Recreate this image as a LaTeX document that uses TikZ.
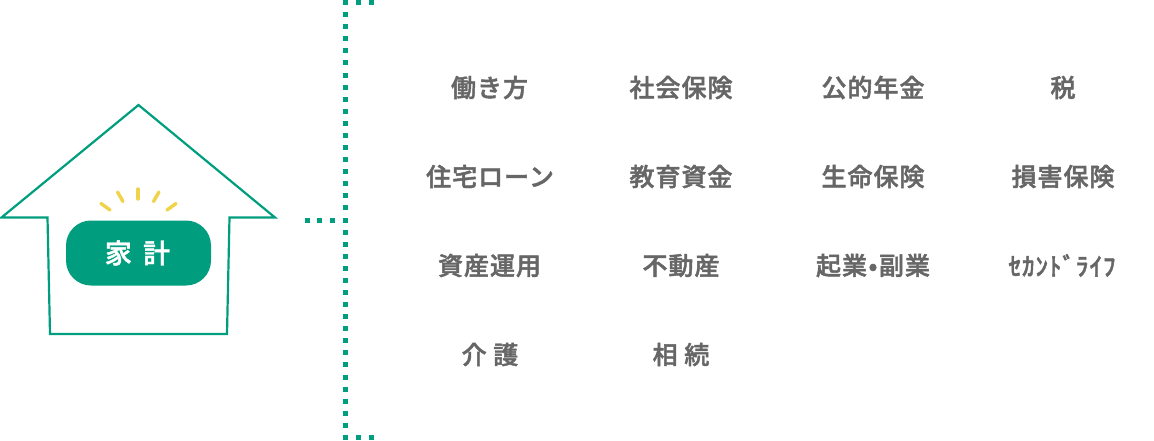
\documentclass[tikz,border=0pt]{standalone}
\usepackage{fontspec}
\newfontfamily\jp[LetterSpace=4,FakeBold=1.8]{Noto Sans CJK JP Medium}
\newfontfamily\jpwhite[LetterSpace=42,FakeBold=1.5]{Noto Sans CJK JP Medium}
\definecolor{kgreen}{HTML}{009E7E}
\definecolor{kyellow}{HTML}{F0D24B}
\definecolor{ktext}{HTML}{666666}
\tikzset{
  item/.style={text=ktext,font=\jp\fontsize{25}{28}\selectfont,inner sep=0pt,anchor=center},
  housebody/.style={draw=kgreen,line width=2.2pt,line join=miter,fill=white},
  ray/.style={draw=kyellow,line width=3.4pt,line cap=round},
  dotsq/.style={fill=kgreen,draw=none},
}
\begin{document}
\begin{tikzpicture}[x=1pt,y=-1pt]
\useasboundingbox (0,0) rectangle (1154,440);
% house
\draw[housebody] (138.5,105) -- (275,217.5) -- (229.5,217.5) -- (227,334) -- (50,334) -- (47.5,217.5) -- (1.5,217.5) -- cycle;
\fill[kgreen,rounded corners=25pt] (66,220.5) rectangle (211,285.5);
\node[inner sep=0pt,text=white,font=\jpwhite\fontsize{27}{30}\selectfont] (kakei) at (137.5,253) {家計};
% rays
\draw[ray] (101,203.5) -- (110,210);
\draw[ray] (117.5,192) -- (123,201.5);
\draw[ray] (138,189) -- (138,199);
\draw[ray] (159,192) -- (153.5,201.5);
\draw[ray] (176,203.5) -- (167,210);
% dotted lines
\foreach \k in {-18,...,18} {
  \pgfmathsetmacro{\yy}{220+\k*12.08}
  \fill[dotsq] (342.5,\yy-2.5) rectangle (347.5,\yy+2.5);
}
\foreach \xx in {307,319.5,332} {
  \fill[dotsq] (\xx-2.5,217.5) rectangle (\xx+2.5,222.5);
}
\foreach \xx in {358.5,371.5} {
  \fill[dotsq] (\xx-2.5,0) rectangle (\xx+2.5,5);
  \fill[dotsq] (\xx-2.5,435) rectangle (\xx+2.5,440);
}
% items
\node[item] (a1) at (489.5,87.5) {働き方};
\node[item] (a2) at (681,87.5) {社会保険};
\node[item] (a3) at (873,87.5) {公的年金};
\node[item] (a4) at (1063,87.5) {税};
\node[item] (b1) at (490,176.5) {住宅ローン};
\node[item] (b2) at (681,176.5) {教育資金};
\node[item] (b3) at (873,176.5) {生命保険};
\node[item] (b4) at (1063,176.5) {損害保険};
\node[item] (c1) at (489.5,265.5) {資産運用};
\node[item] (c2) at (681,265.5) {不動産};
\node[item] (c3) at (873,265.5) {起業\kern1.5pt•\kern1.5pt副業};
\node[item] (c4) at (1062,265.5) {ｾｶﾝﾄﾞﾗｲﾌ};
\node[item] (d1) at (490,354.5) {介 護};
\node[item] (d2) at (681,354.5) {相 続};
\end{tikzpicture}
\end{document}
